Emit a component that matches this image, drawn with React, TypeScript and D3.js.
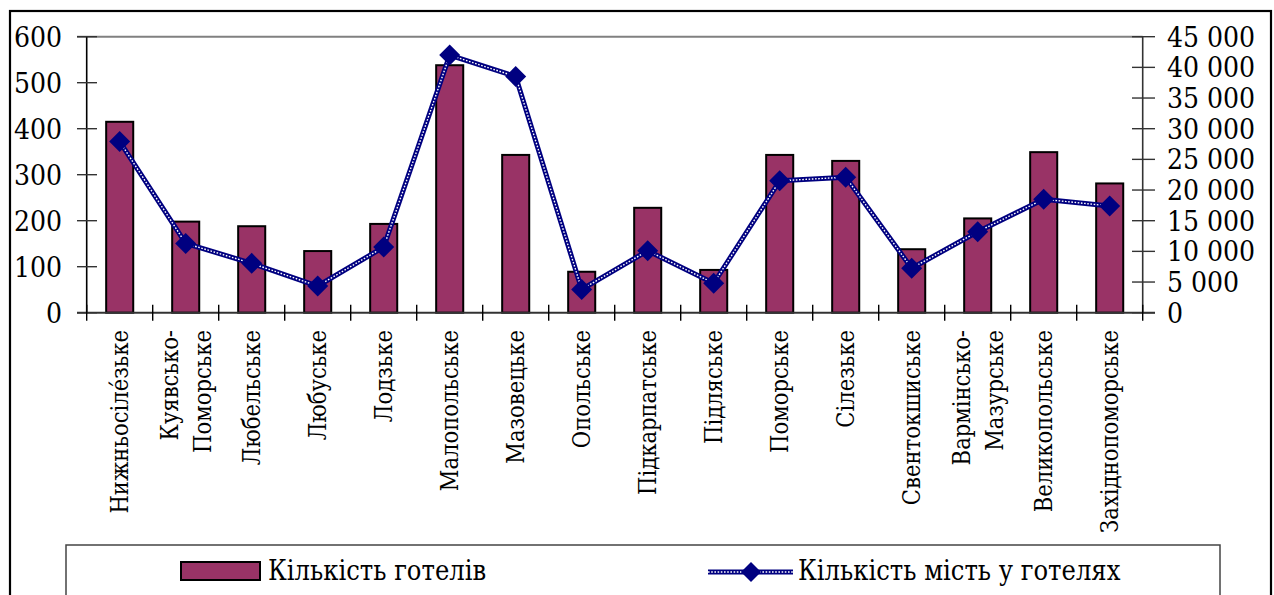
import React from "react";
import * as d3 from "d3";

const categories: string[][] = [
  ["Нижньосіле́зьке"],
  ["Куявсько-", "Поморське"],
  ["Любельське"],
  ["Любуське"],
  ["Лодзьке"],
  ["Малопольське"],
  ["Мазовецьке"],
  ["Опольське"],
  ["Підкарпатське"],
  ["Підляське"],
  ["Поморське"],
  ["Сілезьке"],
  ["Свентокшиське"],
  ["Вармінсько-", "Мазурське"],
  ["Великопольське"],
  ["Західнопоморське"],
];
const hotels: number[] = [415, 198, 188, 134, 193, 538, 343, 89, 228, 93, 343, 330, 138, 205, 349, 281];
const beds: number[] = [27900, 11300, 8050, 4350, 10700, 42000, 38500, 3800, 10100, 4800, 21500, 22100, 7250, 13200, 18500, 17400];
const leftTicks: number[] = [0, 100, 200, 300, 400, 500, 600];
const rightTicks: number[] = [0, 5000, 10000, 15000, 20000, 25000, 30000, 35000, 40000, 45000];
const seriesNames: string[] = ["Кількість готелів", "Кількість мість у готелях"];

const W = 1274;
const H = 595;
const X0 = 86.7;
const X1 = 1142.7;
const Y0 = 312.7;
const Y1 = 36.7;
const FONT = "'DejaVu Serif Condensed', 'DejaVu Serif', serif";
const BAR = "#993366";
const NAVY = "#000080";

const fmt = (v: number) => (v >= 1000 ? `${Math.floor(v / 1000)} ${String(v % 1000).padStart(3, "0")}` : String(v));

function diamond(cx: number, cy: number, r: number) {
  return `M${cx},${cy - r}L${cx + r},${cy}L${cx},${cy + r}L${cx - r},${cy}Z`;
}

export default function App() {
  const x = d3.scaleBand<number>().domain(d3.range(categories.length)).range([X0, X1]).paddingInner(0).paddingOuter(0);
  const yL = d3.scaleLinear().domain([0, 600]).range([Y0, Y1]);
  const yR = d3.scaleLinear().domain([0, 45000]).range([Y0, Y1]);
  const bw = x.bandwidth() * 0.41;
  const cx = (i: number) => (x(i) as number) + x.bandwidth() / 2;
  const line = d3
    .line<number>()
    .x((_, i) => cx(i))
    .y((d) => yR(d));
  const pathD = line(beds) || "";
  const ts = { fontFamily: FONT, fontStretch: "condensed" } as React.CSSProperties;

  return (
    <svg width={W} height={H} style={{ position: "absolute", left: 0, top: 0, background: "#fff", fontFamily: FONT }}>
      <rect x={0} y={0} width={W} height={H} fill="#fff" />
      <rect x={10} y={11} width={1261} height={H + 20} fill="none" stroke="#000" strokeWidth={2.2} />
      <line x1={77} x2={X1} y1={Y1} y2={Y1} stroke="#808080" strokeWidth={2} />
      {hotels.map((v, i) => (
        <rect key={i} x={cx(i) - bw / 2} y={yL(v)} width={bw} height={Y0 - yL(v)} fill={BAR} stroke="#000" strokeWidth={2} />
      ))}
      <line x1={X0} x2={X0} y1={Y1} y2={Y0} stroke="#000" strokeWidth={1.6} />
      {leftTicks.map((t) => (
        <g key={t}>
          <line x1={77} x2={97} y1={yL(t)} y2={yL(t)} stroke="#333" strokeWidth={1.4} />
          <text x={62} y={yL(t)} dy="0.36em" textAnchor="end" fontSize={28} style={ts}>
            {t}
          </text>
        </g>
      ))}
      <line x1={X1} x2={X1} y1={Y1} y2={Y0} stroke="#333" strokeWidth={1.6} />
      {rightTicks.map((t) => (
        <g key={t}>
          <line x1={1132} x2={1155} y1={yR(t)} y2={yR(t)} stroke="#333" strokeWidth={1.4} />
          <text x={1167} y={yR(t)} dy="0.36em" textAnchor="start" fontSize={28} style={ts}>
            {fmt(t)}
          </text>
        </g>
      ))}
      <line x1={77} x2={1155} y1={Y0} y2={Y0} stroke="#333" strokeWidth={2} />
      {d3.range(categories.length + 1).map((i) => {
        const xx = i < categories.length ? (x(i) as number) : X1;
        return <line key={i} x1={xx} x2={xx} y1={Y0 - 8} y2={Y0 + 8} stroke="#000" strokeWidth={1.4} />;
      })}
      {categories.map((lines, i) => {
        const n = lines.length;
        return lines.map((s, k) => {
          const off = (k - (n - 1) / 2) * 33;
          const tx = cx(i) + off;
          return (
            <text key={`${i}-${k}`} transform={`translate(${tx},330) rotate(-90)`} dy="0.36em" textAnchor="end" fontSize={23.5} style={ts}>
              {s}
            </text>
          );
        });
      })}
      <path d={pathD} fill="none" stroke={NAVY} strokeWidth={5} strokeLinejoin="round" />
      <path d={pathD} fill="none" stroke="#ffffff" strokeWidth={1.4} strokeDasharray="1.6,1.6" />
      {beds.map((v, i) => (
        <path key={i} d={diamond(cx(i), yR(v), 10.5)} fill={NAVY} />
      ))}
      <rect x={66} y={545} width={1154} height={80} fill="#fff" stroke="#444" strokeWidth={1.5} />
      <rect x={181} y={562} width={79} height={18} fill={BAR} stroke="#000" strokeWidth={2} />
      <text x={268} y={580} fontSize={27} style={ts}>
        {seriesNames[0]}
      </text>
      <line x1={708} x2={793} y1={572} y2={572} stroke={NAVY} strokeWidth={5} />
      <line x1={708} x2={793} y1={572} y2={572} stroke="#fff" strokeWidth={1.4} strokeDasharray="1.6,1.6" />
      <path d={diamond(751, 572, 10)} fill={NAVY} />
      <text x={798} y={580} fontSize={27} style={ts}>
        {seriesNames[1]}
      </text>
    </svg>
  );
}
